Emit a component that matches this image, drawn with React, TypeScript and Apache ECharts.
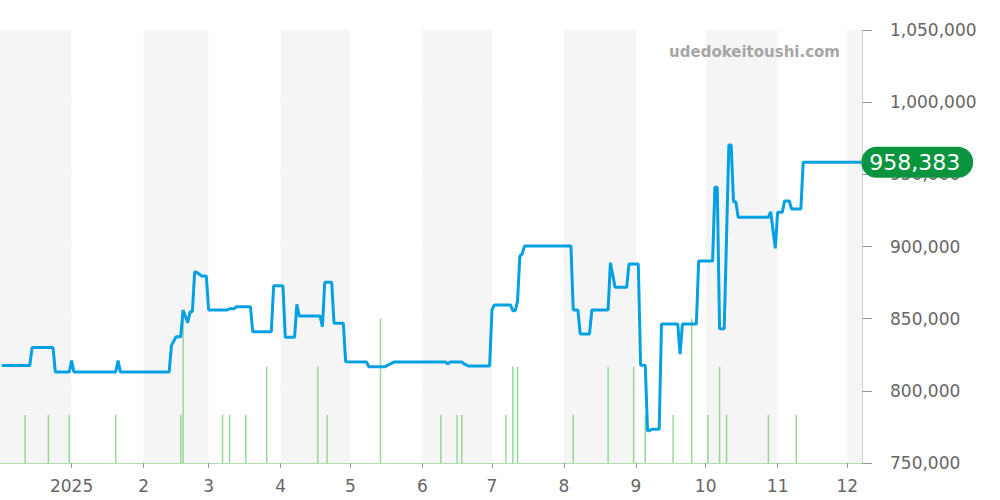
import React, { useEffect, useRef } from "react";
import * as echarts from "echarts";

const priceDates: string[] = [
  "2024-12-02", "2024-12-14", "2024-12-15", "2024-12-24", "2024-12-25", "2024-12-31",
  "2025-01-01", "2025-01-02", "2025-01-20", "2025-01-21", "2025-01-22",
  "2025-02-12", "2025-02-13", "2025-02-15", "2025-02-17", "2025-02-18", "2025-02-20",
  "2025-02-21", "2025-02-22", "2025-02-23", "2025-02-24", "2025-02-26", "2025-02-28",
  "2025-03-01", "2025-03-09", "2025-03-10", "2025-03-12", "2025-03-13", "2025-03-19",
  "2025-03-20", "2025-03-28", "2025-03-29",
  "2025-04-02", "2025-04-03", "2025-04-07", "2025-04-08", "2025-04-09", "2025-04-18",
  "2025-04-19", "2025-04-20", "2025-04-23", "2025-04-24", "2025-04-28", "2025-04-29",
  "2025-05-08", "2025-05-09", "2025-05-16", "2025-05-17", "2025-05-20",
  "2025-06-11", "2025-06-12", "2025-06-13", "2025-06-18", "2025-06-19", "2025-06-21",
  "2025-06-30",
  "2025-07-01", "2025-07-02", "2025-07-09", "2025-07-10", "2025-07-11", "2025-07-12",
  "2025-07-13", "2025-07-14", "2025-07-15",
  "2025-08-04", "2025-08-05", "2025-08-07", "2025-08-08", "2025-08-12", "2025-08-13",
  "2025-08-20", "2025-08-21", "2025-08-23", "2025-08-28", "2025-08-29",
  "2025-09-02", "2025-09-03", "2025-09-05", "2025-09-06", "2025-09-08", "2025-09-11",
  "2025-09-12", "2025-09-19", "2025-09-20", "2025-09-21", "2025-09-27", "2025-09-28",
  "2025-10-04", "2025-10-05", "2025-10-06", "2025-10-07", "2025-10-09", "2025-10-11",
  "2025-10-12", "2025-10-13", "2025-10-14", "2025-10-15", "2025-10-28", "2025-10-29",
  "2025-10-31",
  "2025-11-01", "2025-11-03", "2025-11-04", "2025-11-06", "2025-11-07", "2025-11-11",
  "2025-11-12", "2025-12-07",
];

const priceValues: number[] = [
  817500, 817500, 830000, 830000, 813000, 813000,
  821000, 813000, 813000, 821000, 813000,
  813000, 831500, 837500, 837500, 856000, 847200,
  854800, 854800, 882500, 882000, 879500, 879500,
  856000, 856000, 856900, 856900, 858300, 858300,
  841000, 841000, 872800,
  872800, 837100, 837100, 860000, 851800, 851800,
  844400, 875200, 875200, 846800, 846800, 820200,
  820000, 816700, 816700, 817700, 820000,
  820000, 818600, 820000, 820000, 818600, 817200,
  817200,
  856000, 859500, 859500, 855500, 855500, 861800,
  893400, 894800, 900300,
  900300, 856000, 856000, 839400, 839400, 856000,
  856000, 888800, 871700, 871700, 887900,
  887900, 817700, 817700, 772200, 773300, 773300,
  846300, 846300, 825500, 846300, 846300, 890000,
  890000, 941000, 941000, 843000, 843000, 970300,
  970300, 931000, 931000, 920200, 920200, 924100,
  898700,
  923700, 923700, 931500, 931500, 926000, 926000,
  958383, 958383,
];

const volumeDates: string[] = [
  "2024-12-12", "2024-12-22", "2024-12-31", "2025-01-20", "2025-02-17", "2025-02-18",
  "2025-03-07", "2025-03-10", "2025-03-17", "2025-03-26", "2025-04-17", "2025-04-21",
  "2025-05-14", "2025-06-09", "2025-06-16", "2025-06-18", "2025-07-07", "2025-07-10",
  "2025-07-12", "2025-08-05", "2025-08-20", "2025-08-31", "2025-09-05", "2025-09-17",
  "2025-09-25", "2025-10-02", "2025-10-07", "2025-10-10", "2025-10-28", "2025-11-09",
];

const volumeValues: number[] = [
  1, 1, 1, 1, 1, 3,
  1, 1, 1, 2, 2, 1,
  3, 1, 1, 1, 1, 2,
  2, 1, 2, 2, 1, 1,
  3, 1, 2, 1, 1, 1,
];

const yTickMin = 750000;
const yTickMax = 1050000;
const yTickStep = 50000;
const axisStart = "2024-12-01 12:00:00";
const axisEnd = "2025-12-07";
const watermark = "udedokeitoushi.com";

export default function App() {
  const ref = useRef<HTMLDivElement>(null);

  useEffect(() => {
    if (!ref.current) return;
    const chart = echarts.init(ref.current, undefined, { renderer: "svg" });
    const font = "DejaVu Sans";
    const lastValue = priceValues[priceValues.length - 1];

    chart.setOption({
      animation: false,
      backgroundColor: "#ffffff",
      grid: { left: 0, right: 138, top: 30, bottom: 37, containLabel: false },
      graphic: [
        {
          type: "text",
          right: 160,
          top: 44,
          style: {
            text: watermark,
            fill: "#a6a6a6",
            font: `bold 15px "${font}"`,
          },
          z: 100,
        },
      ],
      xAxis: {
        type: "time",
        min: axisStart,
        max: axisEnd,
        splitNumber: 12,
        minInterval: 28 * 86400000,
        axisLine: {
          show: true,
          lineStyle: { color: "#a9dca9", type: "dotted", width: 1 },
        },
        axisTick: { show: true, length: 5, lineStyle: { color: "#999999" } },
        axisLabel: {
          color: "#666666",
          fontSize: 17,
          fontFamily: font,
          margin: 14,
          formatter: (val: number) => {
            const d = new Date(val);
            return d.getMonth() === 0 ? String(d.getFullYear()) : String(d.getMonth() + 1);
          },
        },
        splitLine: { show: false },
        splitArea: {
          show: true,
          areaStyle: { color: ["#f5f5f5", "#ffffff"] },
        },
      },
      yAxis: [
        {
          type: "value",
          position: "right",
          min: yTickMin,
          max: yTickMax,
          interval: yTickStep,
          axisLine: { show: true, lineStyle: { color: "#d0d0d0" } },
          axisTick: { show: true, length: 10, lineStyle: { color: "#999999" } },
          axisLabel: {
            color: "#666666",
            fontSize: 17,
            fontFamily: font,
            margin: 28,
            formatter: (v: number) => v.toLocaleString("en-US"),
          },
          splitLine: { show: true, lineStyle: { color: "#e2e2e2" } },
        },
        {
          type: "value",
          min: 0,
          max: 9,
          show: false,
          splitLine: { show: false },
        },
      ],
      series: [
        {
          type: "bar",
          yAxisIndex: 1,
          data: volumeDates.map((d, i) => [d, volumeValues[i]]),
          barWidth: 1.5,
          itemStyle: { color: "#95d895" },
          silent: true,
          z: 1,
        },
        {
          type: "line",
          data: priceDates.map((d, i) => [d, priceValues[i]]),
          showSymbol: false,
          symbol: "none",
          lineStyle: { color: "#04a0e4", width: 3 },
          z: 5,
          endLabel: {
            show: true,
            formatter: () => lastValue.toLocaleString("en-US"),
            color: "#ffffff",
            fontSize: 22,
            fontFamily: font,
            backgroundColor: "#0b9440",
            borderRadius: 16,
            padding: [5, 13, 4, 8],
            distance: 0,
          },
        },
      ],
    });

    return () => chart.dispose();
  }, []);

  return (
    <div
      ref={ref}
      style={{ position: "absolute", left: 0, top: 0, width: 1000, height: 500 }}
    />
  );
}
